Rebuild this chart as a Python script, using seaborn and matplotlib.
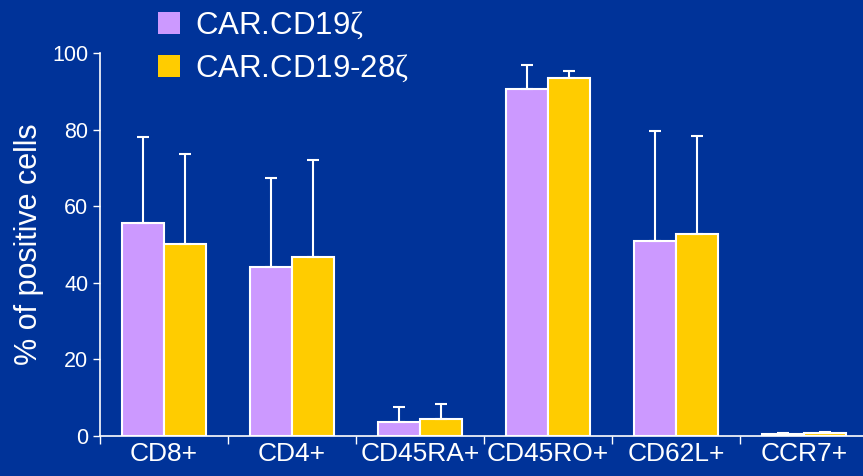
import pandas as pd
import numpy as np
import matplotlib
matplotlib.use("Agg")
import matplotlib.pyplot as plt
import seaborn as sns

#---------------------------- data ---------------------------------
markers = ["CD8+", "CD4+", "CD45RA+", "CD45RO+", "CD62L+", "CCR7+"]
groups = ["CAR.CD19$\\zeta$", "CAR.CD19-28$\\zeta$"]
cd19z_mean = [55.6, 44.1, 3.7, 90.6, 50.9, 0.5]
cd19z_top = [78.1, 67.4, 7.6, 96.9, 79.7, 0.9]
cd1928z_mean = [50.1, 46.7, 4.5, 93.5, 52.7, 0.8]
cd1928z_top = [73.6, 72.1, 8.4, 95.2, 78.4, 1.0]

bg = "#003399"
colors = ["#CC99FF", "#FFCC00"]

df = pd.DataFrame({
    "marker": markers * 2,
    "group": [groups[0]] * 6 + [groups[1]] * 6,
    "value": cd19z_mean + cd1928z_mean,
    "top": cd19z_top + cd1928z_top,
})

#---------------------------- plot ---------------------------------
sns.set_style("ticks")
plt.rcParams["font.family"] = ["Liberation Sans", "DejaVu Sans"]
# serif zeta like the original slide
plt.rcParams["mathtext.fontset"] = "custom"
plt.rcParams["mathtext.rm"] = "Liberation Serif"
plt.rcParams["mathtext.it"] = "Liberation Serif"

fig = plt.figure(figsize=(8.63, 4.76), dpi=100, facecolor=bg)
ax = fig.add_axes([100 / 863, 40 / 476, 768 / 863, 383 / 476])
ax.set_facecolor(bg)

sns.barplot(data=df, x="marker", y="value", hue="group", order=markers,
            hue_order=groups, palette=colors, saturation=1, width=0.66,
            errorbar=None, edgecolor="white", linewidth=1.5, ax=ax)

# upper error bars only
for bars, tops in zip(ax.containers, [cd19z_top, cd1928z_top]):
    for patch, top in zip(bars, tops):
        x = patch.get_x() + patch.get_width() / 2
        h = patch.get_height()
        ax.errorbar(x, h, yerr=[[0], [top - h]], color="white", lw=1.5,
                    capsize=4.3, capthick=1.5, zorder=1)

ax.set_xlim(-0.5, 5.5)
ax.set_ylim(0, 100)
ax.set_yticks([0, 20, 40, 60, 80, 100])
ax.tick_params(axis="y", colors="white", labelsize=15.5, length=5, width=1)
ax.set_xticks(range(len(markers)))
ax.set_xticklabels(markers)
ax.set_xticks(np.arange(-0.5, 5.0, 1.0), minor=True)
ax.tick_params(axis="x", which="major", length=0, colors="white",
               labelsize=19, pad=4)
ax.tick_params(axis="x", which="minor", length=6, width=1, color="white")

ax.set_xlabel("")
ax.set_ylabel("% of positive cells", color="white", fontsize=22, labelpad=6)

for s in ["top", "right"]:
    ax.spines[s].set_visible(False)
for s in ["left", "bottom"]:
    ax.spines[s].set_color("white")
    ax.spines[s].set_linewidth(1.2)

ax.legend(loc="upper left", bbox_to_anchor=(142 / 863, 1.012),
          bbox_transform=fig.transFigure, frameon=False, fontsize=22.5,
          labelcolor="white", handlelength=0.7, handleheight=0.7,
          handletextpad=0.5, labelspacing=0.36, borderaxespad=0.1)
for h in ax.get_legend().legend_handles:
    h.set_edgecolor("none")

fig.savefig("out.png", dpi=100, facecolor=bg)
